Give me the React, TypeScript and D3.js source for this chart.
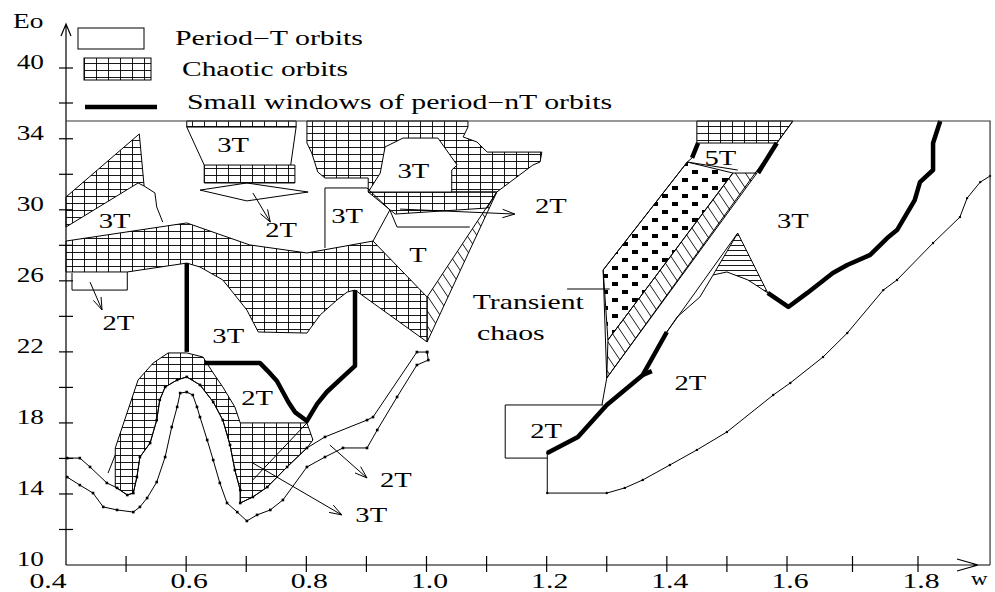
import * as React from 'react';
import * as d3 from 'd3';

type Pt = [number, number];

// axes
const xTicks = [0.5, 0.6, 0.7, 0.8, 0.9, 1.0, 1.1, 1.2, 1.3, 1.4, 1.5, 1.6, 1.7, 1.8];
const xLabels = [0.4, 0.6, 0.8, 1.0, 1.2, 1.4, 1.6, 1.8];
const yTicks = [12, 14, 16, 18, 20, 22, 24, 26, 28, 30, 32, 34, 38, 40];
const yLabels = [10, 14, 18, 22, 26, 30, 34, 40];
const wMax = 1.91;

// chaotic regions (w, Eo)
const chaosTopLeft: Pt[] = [[0.4, 30.72], [0.522, 34.27], [0.53, 31.34], [0.52, 31.51], [0.4, 29.03]];
const chaosBand: Pt[] = [
  [0.4, 28.24], [0.601, 29.26], [0.706, 28.02], [0.801, 27.57], [0.911, 28.24], [1.001, 25.09],
  [1.001, 22.56], [0.881, 25.48], [0.868, 25.37], [0.851, 24.92], [0.823, 24.08], [0.801, 23.06],
  [0.72, 23.12], [0.701, 24.36], [0.661, 26.05], [0.623, 26.78], [0.601, 27.0], [0.502, 26.5], [0.4, 26.5],
];
const chaosTrapTop: Pt[] = [[0.601, 35], [0.783, 35], [0.783, 34.66], [0.601, 34.66]];
const chaosTrapBottom: Pt[] = [[0.63, 32.52], [0.781, 32.52], [0.781, 31.51], [0.63, 31.51]];
const chaosTopMid: Pt[] = [
  [0.801, 35], [1.069, 35], [1.069, 34.66], [1.061, 34.1], [1.084, 33.82], [1.101, 33.25], [1.192, 33.25],
  [1.189, 32.69], [1.177, 32.52], [1.139, 31.56], [1.117, 31.0], [0.903, 31.0], [0.903, 31.79],
  [0.831, 31.79], [0.819, 32.13], [0.809, 33.2], [0.801, 33.76],
];
const chaosUnder3T: Pt[] = [[0.903, 31.0], [1.117, 31.0], [1.101, 30.1], [0.948, 29.76]];
const chaosS: Pt[] = [
  [0.482, 16.59], [0.52, 20.42], [0.545, 21.37], [0.57, 21.94], [0.601, 21.94], [0.628, 21.71], [0.645, 20.81],
  [0.661, 20.02], [0.681, 18.9], [0.69, 18.0], [0.801, 18.0], [0.811, 17.04], [0.801, 16.59], [0.768, 15.52],
  [0.735, 14.39], [0.711, 13.83], [0.69, 13.49], [0.69, 14.22], [0.681, 15.35], [0.673, 16.76], [0.661, 18.16],
  [0.645, 19.18], [0.623, 20.14], [0.601, 20.59], [0.585, 20.42], [0.565, 20.02], [0.556, 19.29], [0.551, 18.16],
  [0.54, 16.87], [0.523, 16.08], [0.518, 14.95], [0.512, 14.05], [0.502, 13.94], [0.482, 14.39],
];
const chaosRightTop: Pt[] = [[1.45, 35], [1.609, 35], [1.583, 33.76], [1.45, 33.76]];

// other hatched regions
const stripT: Pt[] = [[1.001, 25.09], [1.117, 31.0], [1.001, 22.56]];
const stripRight: Pt[] = [[1.51, 32.07], [1.55, 32.07], [1.3, 20.53], [1.302, 22.67]];
const transientDots: Pt[] = [[1.434, 32.69], [1.51, 32.07], [1.302, 22.67], [1.294, 26.61]];
const hatchTriangle: Pt[] = [[1.518, 28.69], [1.568, 25.32], [1.535, 26.05], [1.5, 26.5], [1.477, 26.33]];
const white3T: Pt[] = [[0.903, 31.0], [0.923, 32.07], [0.931, 33.54], [0.961, 34.04], [1.019, 34.04], [1.051, 32.52], [1.042, 32.24], [1.042, 31.0]];

// thin boundaries
const curve3T: Pt[] = [[0.53, 31.34], [0.548, 30.95], [0.551, 30.16], [0.561, 29.31]];
const boxLeft2T: Pt[] = [[0.41, 26.44], [0.41, 25.48], [0.502, 25.48], [0.502, 26.5]];
const trapLeft: Pt[] = [[0.601, 34.66], [0.63, 32.52]];
const trapRight: Pt[] = [[0.783, 34.66], [0.774, 32.52]];
const rhombus: Pt[] = [[0.623, 31.11], [0.701, 31.51], [0.803, 31.0], [0.701, 30.5]];
const box3T: Pt[] = [[0.831, 27.85], [0.831, 31.23], [0.901, 31.23], [0.939, 29.99], [0.911, 28.24]];
const lineUnder3T: Pt[] = [[0.939, 29.99], [0.951, 29.03], [1.072, 29.03]];
const sTick: Pt[] = [[0.47, 15.18], [0.482, 16.2]];
const sInner: Pt[] = [[0.711, 14.79], [0.801, 18.0]];
const curveA: Pt[] = [
  [0.402, 16.02], [0.423, 16.02], [0.44, 15.52], [0.468, 14.62], [0.485, 14.34], [0.502, 13.94], [0.512, 14.05],
  [0.518, 14.95], [0.523, 16.08], [0.54, 16.87], [0.551, 18.16], [0.556, 19.29], [0.565, 20.02], [0.585, 20.42],
  [0.601, 20.59], [0.623, 20.14], [0.645, 19.18], [0.661, 18.16], [0.673, 16.76], [0.681, 15.35], [0.69, 14.22],
  [0.69, 13.49], [0.711, 13.83], [0.735, 14.39], [0.768, 15.52], [0.801, 16.59], [0.831, 17.21], [0.901, 18.16],
  [0.911, 18.33], [0.984, 21.99], [1.001, 21.99],
];
const curveB: Pt[] = [
  [0.402, 14.95], [0.423, 14.5], [0.445, 14.05], [0.462, 13.27], [0.485, 13.1], [0.512, 12.98], [0.523, 13.27],
  [0.535, 13.77], [0.551, 14.67], [0.565, 16.08], [0.576, 17.77], [0.585, 18.9], [0.59, 19.68], [0.601, 19.74],
  [0.611, 19.57], [0.618, 18.9], [0.623, 18.33], [0.635, 17.04], [0.645, 15.91], [0.656, 14.62], [0.668, 13.49],
  [0.685, 12.98], [0.701, 12.48], [0.718, 12.82], [0.74, 13.1], [0.761, 13.66], [0.801, 15.52], [0.831, 16.08],
  [0.861, 16.59], [0.901, 16.59], [0.918, 17.6], [0.951, 19.46], [0.984, 21.26], [1.003, 21.54], [1.001, 21.99],
];
const longLine: Pt[] = [[1.609, 35], [1.3, 20.53], [1.292, 19.01]];
const transientEdge: Pt[] = [[1.442, 32.92], [1.434, 32.69], [1.294, 26.61], [1.3, 20.53]];
const line5T: Pt[] = [[1.434, 32.69], [1.518, 32.24]];
const lineApex: Pt[] = [[1.518, 28.69], [1.4, 23.12]];
const lineL2: Pt[] = [[1.477, 26.33], [1.455, 25.09], [1.417, 23.96], [1.4, 23.12]];
const curveRight: Pt[] = [
  [1.201, 16.31], [1.201, 14.05], [1.3, 14.05], [1.33, 14.34], [1.36, 14.79], [1.405, 15.63], [1.45, 16.48],
  [1.5, 17.49], [1.577, 19.57], [1.605, 20.25], [1.655, 21.71], [1.692, 23.06], [1.747, 25.48], [1.768, 26.05],
  [1.823, 28.13], [1.864, 29.59], [1.875, 30.66], [1.895, 31.56], [1.91, 31.9],
];
const box2T: Pt[] = [[1.201, 16.02], [1.131, 16.02], [1.131, 19.01], [1.294, 19.01]];
const pointer: Pt[] = [[1.234, 25.54], [1.305, 25.54]];

// small windows of period-nT (thick)
const thickA: Pt[] = [[0.601, 27.0], [0.601, 22.0]];
const thickB: Pt[] = [
  [0.631, 21.37], [0.723, 21.37], [0.736, 20.92], [0.751, 20.36], [0.761, 19.74], [0.77, 19.18], [0.781, 18.61],
  [0.801, 18.11], [0.818, 19.07], [0.834, 19.74], [0.861, 20.59], [0.881, 21.21], [0.881, 25.48],
];
const thick5TLeft: Pt[] = [[1.452, 33.76], [1.442, 32.92]];
const thick5TRight: Pt[] = [[1.583, 33.76], [1.552, 32.07]];
const thick2T: Pt[] = [[1.201, 16.31], [1.252, 17.21], [1.3, 19.01], [1.36, 20.7], [1.4, 23.12]];
const thick2THook: Pt[] = [[1.36, 20.7], [1.375, 20.92]];
const thickRight: Pt[] = [
  [1.568, 25.32], [1.602, 24.53], [1.631, 25.32], [1.67, 26.44], [1.692, 26.89], [1.727, 27.46], [1.753, 28.41],
  [1.768, 28.86], [1.795, 30.55], [1.803, 31.56], [1.823, 32.24], [1.823, 33.76], [1.834, 35],
];

// arrows
const arrows: Pt[][] = [
  [[0.44, 25.93], [0.46, 24.36]],
  [[0.711, 30.95], [0.74, 29.31]],
  [[0.956, 30.04], [1.147, 29.76]],
  [[0.839, 16.76], [0.901, 14.9]],
  [[0.711, 15.74], [0.859, 12.82]],
];

// region labels: text, w, Eo (baseline)
const regionLabels: [string, number, number][] = [
  ['3T', 0.481, 28.98], ['3T', 0.678, 33.25], ['2T', 0.758, 28.47], ['3T', 0.868, 29.26],
  ['3T', 0.978, 31.79], ['2T', 1.207, 29.82], ['T', 0.986, 27.06], ['2T', 0.487, 23.23],
  ['3T', 0.67, 22.5], ['2T', 0.718, 19.01], ['2T', 0.949, 14.39], ['3T', 0.908, 12.42],
  ['5T', 1.489, 32.52], ['3T', 1.609, 28.98], ['2T', 1.439, 19.85], ['2T', 1.199, 17.15],
];
const noteLabels: [string, number, number][] = [['Transient', 1.077, 24.41], ['chaos', 1.084, 22.67]];

const legendItems = ['Period\u2212T orbits', 'Chaotic orbits', 'Small windows of period\u2212nT  orbits'];

export default function App() {
  const ref = React.useRef<SVGSVGElement | null>(null);

  React.useEffect(() => {
    if (!ref.current) return;
    const svg = d3.select(ref.current);
    svg.selectAll('*').remove();

    const x = d3.scaleLinear().domain([0.4, 1.6, 1.8]).range([66, 787, 918]);
    const y = d3.scaleLinear().domain([10, 35, 38, 40]).range([565, 121, 103, 68]);
    const line = d3.line<Pt>().x(d => x(d[0])).y(d => y(d[1]));
    const font = "'Liberation Serif', 'Times New Roman', serif";

    const defs = svg.append('defs');
    const pattern = (id: string, w: number, h: number, d: string) => {
      defs.append('pattern').attr('id', id).attr('patternUnits', 'userSpaceOnUse')
        .attr('width', w).attr('height', h)
        .append('path').attr('d', d).attr('fill', 'none').attr('stroke', '#000').attr('stroke-width', 0.9);
    };
    pattern('grid', 12, 7, 'M0.5,0V7M0,0.5H12');
    pattern('hlines', 10, 5, 'M0,0.5H10');
    pattern('diag', 10, 15, 'M0,0L10,15M-10,0L0,15M10,0L20,15');
    const dots = defs.append('pattern').attr('id', 'dots').attr('patternUnits', 'userSpaceOnUse')
      .attr('width', 20).attr('height', 16);
    dots.append('rect').attr('x', 2).attr('y', 2).attr('width', 6).attr('height', 4);
    dots.append('rect').attr('x', 12).attr('y', 10).attr('width', 6).attr('height', 4);

    const area = (pts: Pt[], fill: string) =>
      svg.append('path').attr('d', line(pts) + 'Z').attr('fill', fill)
        .attr('stroke', '#000').attr('stroke-width', 1);
    const path = (pts: Pt[], w = 1) =>
      svg.append('path').attr('d', line(pts) as string).attr('fill', 'none')
        .attr('stroke', '#000').attr('stroke-width', w).attr('stroke-linejoin', 'round');
    const label = (s: string, px: number, py: number, size: number, sx: number, anchor = 'middle') =>
      svg.append('text').attr('transform', `translate(${px},${py}) scale(${sx},1)`)
        .attr('text-anchor', anchor).attr('font-family', font).attr('font-size', size)
        .attr('fill', '#000').text(s);
    const arrowHead = (a: number[], b: number[], h = 13) => {
      const ang = Math.atan2(b[1] - a[1], b[0] - a[0]);
      const p1 = [b[0] - h * Math.cos(ang - 0.33), b[1] - h * Math.sin(ang - 0.33)];
      const p2 = [b[0] - h * Math.cos(ang + 0.33), b[1] - h * Math.sin(ang + 0.33)];
      svg.append('path').attr('d', `M${a}L${b}M${p1}L${b}L${p2}`)
        .attr('fill', 'none').attr('stroke', '#000').attr('stroke-width', 1);
    };

    // hatched regions
    [chaosTopLeft, chaosBand, chaosTrapTop, chaosTrapBottom, chaosTopMid, chaosUnder3T, chaosS, chaosRightTop]
      .forEach(p => area(p, 'url(#grid)'));
    area(white3T, '#fff');
    area(stripT, 'url(#diag)');
    area(stripRight, 'url(#diag)');
    area(transientDots, 'url(#dots)');
    area(hatchTriangle, 'url(#hlines)');
    area(rhombus, 'none');

    // boundaries
    [curve3T, boxLeft2T, trapLeft, trapRight, box3T, lineUnder3T, sTick, sInner, curveA, curveB,
      longLine, transientEdge, line5T, lineApex, lineL2, curveRight, box2T, pointer].forEach(p => path(p));

    // point marks on the computed boundaries
    [curveA, curveB].forEach(c =>
      svg.append('g').selectAll('rect').data(c).join('rect')
        .attr('x', d => x(d[0]) - 1.3).attr('y', d => y(d[1]) - 1.3)
        .attr('width', 2.6).attr('height', 2.6).attr('fill', '#000'));
    svg.append('g').selectAll('circle').data(curveRight).join('circle')
      .attr('cx', d => x(d[0])).attr('cy', d => y(d[1])).attr('r', 1.2).attr('fill', '#000');

    // thick windows
    [thickA, thickB, thick5TLeft, thick5TRight, thick2T, thick2THook, thickRight].forEach(p => path(p, 4.5));

    arrows.forEach(a => arrowHead([x(a[0][0]), y(a[0][1])], [x(a[1][0]), y(a[1][1])]));

    regionLabels.forEach(([t, w, e]) => label(t, x(w), y(e), 22, 1.3));
    noteLabels.forEach(([t, w, e]) => label(t, x(w), y(e), 22, 1.35, 'start'));

    // axes and frame
    const x0 = x(0.4), y0 = y(10);
    svg.append('path').attr('d', `M${x0},${y0}V24M${x0 - 5},36L${x0},24L${x0 + 5},36`)
      .attr('fill', 'none').attr('stroke', '#000').attr('stroke-width', 1.2);
    svg.append('path').attr('d', `M${x0},${y0}H${x(wMax)}M957,559L978,565L957,571`)
      .attr('fill', 'none').attr('stroke', '#000').attr('stroke-width', 1.2);
    svg.append('path').attr('d', `M${x0},${y(35)}H${x(wMax)}V${y0}`)
      .attr('fill', 'none').attr('stroke', '#333').attr('stroke-width', 1.2);
    svg.append('g').selectAll('line').data(yTicks).join('line')
      .attr('x1', x0 - 7).attr('x2', x0 + 7).attr('y1', d => y(d)).attr('y2', d => y(d))
      .attr('stroke', '#000').attr('stroke-width', 1.2);
    svg.append('g').selectAll('line').data(xTicks).join('line')
      .attr('x1', d => x(d)).attr('x2', d => x(d)).attr('y1', y0 - 9).attr('y2', y0 + 7)
      .attr('stroke', '#000').attr('stroke-width', 1.2);
    yLabels.forEach(v => label(String(v), 44, y(v) + 1, 21, 1.3, 'end'));
    xLabels.forEach((v, i) => label(v.toFixed(1), i === 0 ? x(v) - 18 : x(v) + 3, 588, 22, 1.35));
    label('Eo', 13, 28, 21, 1.3, 'start');
    label('w', 971, 585, 19, 1.2, 'start');

    // legend
    svg.append('rect').attr('x', 78).attr('y', 28).attr('width', 66).attr('height', 21)
      .attr('fill', '#fff').attr('stroke', '#000');
    svg.append('rect').attr('x', 84).attr('y', 58).attr('width', 67).attr('height', 22)
      .attr('fill', 'url(#grid)').attr('stroke', '#000');
    svg.append('line').attr('x1', 85).attr('x2', 157).attr('y1', 107).attr('y2', 107)
      .attr('stroke', '#000').attr('stroke-width', 4.5);
    const legendPos = [[175, 45, 188], [182, 76, 166], [187, 109, 425]];
    legendItems.forEach((t, i) =>
      svg.append('text').attr('x', legendPos[i][0]).attr('y', legendPos[i][1])
        .attr('textLength', legendPos[i][2]).attr('lengthAdjust', 'spacingAndGlyphs')
        .attr('font-family', font).attr('font-size', 20).attr('fill', '#000').text(t));
  }, []);

  return (
    <svg ref={ref} width={995} height={592}
      style={{ position: 'absolute', left: 0, top: 0, background: '#fff', display: 'block' }} />
  );
}
